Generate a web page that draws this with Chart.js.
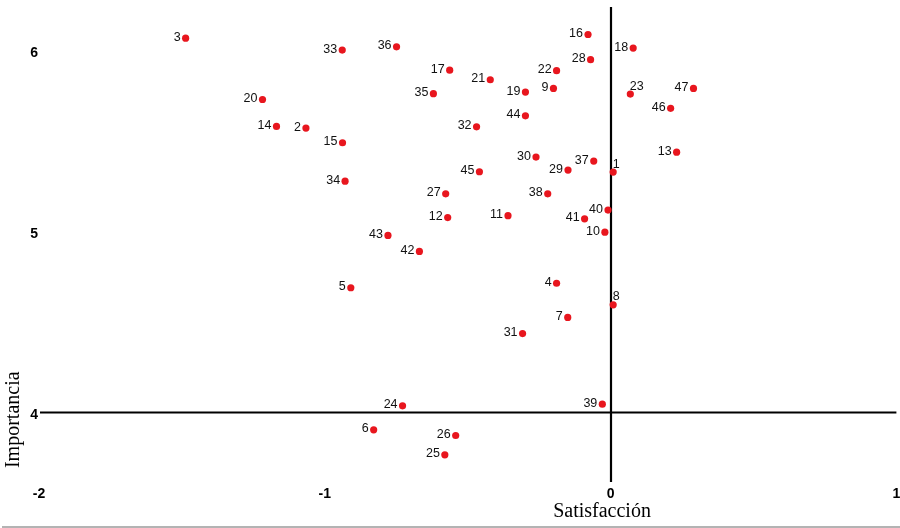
<!DOCTYPE html>
<html>
<head>
<meta charset="utf-8">
<script src="https://cdn.jsdelivr.net/npm/chart.js@4/dist/chart.umd.min.js"></script>
<style>
  html, body { margin: 0; padding: 0; background: #fff; }
  #wrap { width: 900px; height: 528px; position: relative; }
</style>
</head>
<body>
<div id="wrap"><canvas id="c" width="900" height="528"></canvas></div>
<script>
// ---- data ----
const ids = ['1','2','3','4','5','6','7','8','9','10','11','12','13','14','15','16','17','18','19','20','21','22','23','24','25','26','27','28','29','30','31','32','33','34','35','36','37','38','39','40','41','42','43','44','45','46','47'];
const satisfaccion = [0.009,-1.066,-1.487,-0.189,-0.909,-0.829,-0.150,0.009,-0.200,-0.020,-0.359,-0.570,0.231,-1.169,-0.938,-0.079,-0.563,0.079,-0.298,-1.218,-0.421,-0.189,0.069,-0.728,-0.580,-0.542,-0.577,-0.070,-0.149,-0.261,-0.308,-0.469,-0.939,-0.929,-0.620,-0.749,-0.059,-0.220,-0.029,-0.009,-0.091,-0.669,-0.779,-0.298,-0.459,0.210,0.290];
const importancia = [5.328,5.571,6.068,4.714,4.689,3.904,4.525,4.595,5.790,4.996,5.087,5.077,5.438,5.580,5.490,6.088,5.891,6.013,5.770,5.729,5.838,5.888,5.759,4.037,3.766,3.873,5.208,5.949,5.339,5.411,4.436,5.578,6.002,5.278,5.761,6.020,5.389,5.208,4.046,5.118,5.070,4.890,4.978,5.639,5.330,5.680,5.790];
const xTicks = [-2, -1, 0, 1];
const yTicks = [4, 5, 6];
const xTitle = 'Satisfacción';
const yTitle = 'Importancia';
// labels drawn above-right of their point instead of to the left
const labelsAboveRight = ['1', '23', '8'];

const points = ids.map((id, i) => ({ x: satisfaccion[i], y: importancia[i], id }));

const decor = {
  id: 'decor',
  beforeDatasetsDraw(chart) {
    const { ctx, chartArea, scales } = chart;
    const x = scales.x, y = scales.y;
    ctx.save();
    ctx.strokeStyle = '#000';
    ctx.lineWidth = 2.2;
    // vertical line at x = 0
    const x0 = Math.round(x.getPixelForValue(0));
    ctx.beginPath();
    ctx.moveTo(x0, chartArea.top);
    ctx.lineTo(x0, chartArea.bottom);
    ctx.stroke();
    // horizontal line at y = 4
    const y4 = y.getPixelForValue(4);
    ctx.beginPath();
    ctx.moveTo(x.getPixelForValue(-2) + 1, y4);
    ctx.lineTo(x.getPixelForValue(1), y4);
    ctx.stroke();
    // bottom separator
    ctx.strokeStyle = '#9a9a9a';
    ctx.lineWidth = 1.5;
    ctx.beginPath();
    ctx.moveTo(2, 527);
    ctx.lineTo(900, 527);
    ctx.stroke();
    ctx.restore();
  },
  afterDatasetsDraw(chart) {
    const { ctx, scales } = chart;
    const meta = chart.getDatasetMeta(0);
    ctx.save();
    ctx.fillStyle = '#111';
    ctx.font = '12.5px "Liberation Sans", Arial, sans-serif';
    meta.data.forEach((el, i) => {
      const id = ids[i];
      if (labelsAboveRight.includes(id)) {
        ctx.textAlign = 'left';
        ctx.textBaseline = 'middle';
        ctx.fillText(id, el.x - 0.5, el.y - 8);
      } else {
        ctx.textAlign = 'right';
        ctx.textBaseline = 'middle';
        ctx.fillText(id, el.x - 5, el.y - 1);
      }
    });
    // axis titles
    ctx.fillStyle = '#000';
    ctx.font = '20px "Liberation Serif", "Times New Roman", serif';
    ctx.textAlign = 'center';
    ctx.textBaseline = 'middle';
    ctx.fillText(xTitle, scales.x.getPixelForValue(-0.03), 512);
    ctx.save();
    ctx.translate(14, scales.y.getPixelForValue(3.96));
    ctx.rotate(-Math.PI / 2);
    ctx.fillText(yTitle, 0, 0);
    ctx.restore();
    ctx.restore();
  }
};

new Chart(document.getElementById('c'), {
  type: 'scatter',
  data: {
    datasets: [{
      data: points,
      backgroundColor: '#e8161e',
      borderColor: '#e8161e',
      pointRadius: 3.6,
      pointHoverRadius: 3.6,
      borderWidth: 0
    }]
  },
  options: {
    responsive: false,
    animation: false,
    events: [],
    layout: { padding: { top: 7, right: 3, left: 0, bottom: 0 } },
    plugins: { legend: { display: false }, tooltip: { enabled: false } },
    scales: {
      x: {
        type: 'linear',
        min: -2, max: 1,
        afterBuildTicks: s => { s.ticks = xTicks.map(v => ({ value: v })); },
        afterFit: s => { s.height = 46; s.paddingLeft = 0; s.paddingRight = 0; },
        grid: { display: false, drawTicks: false },
        border: { display: false },
        ticks: {
          color: '#000',
          padding: 4,
          font: { family: '"Liberation Sans", Arial, sans-serif', size: 14, weight: 'bold' },
          callback: v => String(v),
          maxRotation: 0
        }
      },
      y: {
        type: 'linear',
        min: 3.616, max: 6.240,
        afterBuildTicks: s => { s.ticks = yTicks.map(v => ({ value: v })); },
        afterFit: s => { s.width = 39; s.paddingTop = 0; s.paddingBottom = 0; },
        grid: { display: false, drawTicks: false },
        border: { display: false },
        ticks: {
          color: '#000',
          padding: 1,
          labelOffset: 3,
          font: { family: '"Liberation Sans", Arial, sans-serif', size: 14, weight: 'bold' },
          callback: v => String(v)
        }
      }
    }
  },
  plugins: [decor]
});
</script>
</body>
</html>
